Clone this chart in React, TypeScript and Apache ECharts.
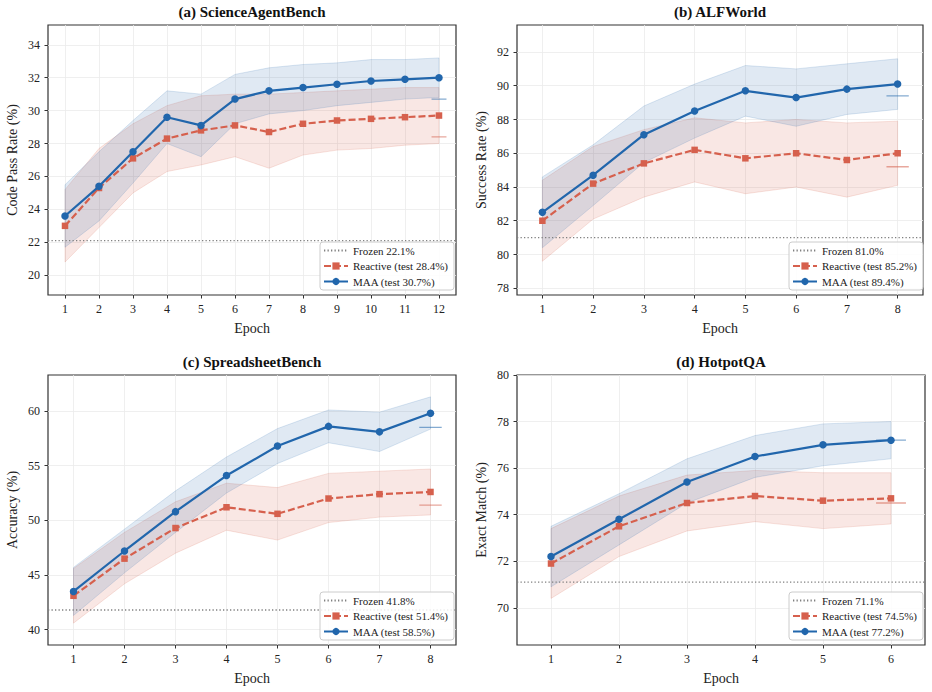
import React, { useEffect, useRef } from "react";
import * as echarts from "echarts";

// ---------- data ----------
const EPOCHS_A = [1, 2, 3, 4, 5, 6, 7, 8, 9, 10, 11, 12];
const A_MAA = [23.6, 25.4, 27.5, 29.6, 29.1, 30.7, 31.2, 31.4, 31.6, 31.8, 31.9, 32.0];
const A_MAA_LO = [21.7, 23.3, 25.6, 28.0, 27.2, 29.2, 29.8, 30.0, 30.3, 30.5, 30.7, 30.8];
const A_MAA_HI = [25.5, 27.5, 29.4, 31.2, 31.0, 32.2, 32.6, 32.8, 32.9, 33.1, 33.1, 33.2];
const A_REA = [23.0, 25.3, 27.1, 28.3, 28.8, 29.1, 28.7, 29.2, 29.4, 29.5, 29.6, 29.7];
const A_REA_LO = [20.8, 22.9, 25.0, 26.3, 26.7, 27.2, 26.5, 27.3, 27.6, 27.7, 27.9, 28.0];
const A_REA_HI = [25.2, 27.7, 29.2, 30.3, 30.9, 31.0, 31.0, 31.1, 31.2, 31.3, 31.4, 31.4];
const A_FROZEN = 22.1;
const A_TEST = { reactive: 28.4, maa: 30.7 };
const A_YTICKS = [20, 22, 24, 26, 28, 30, 32, 34];

const EPOCHS_B = [1, 2, 3, 4, 5, 6, 7, 8];
const B_MAA = [82.5, 84.7, 87.1, 88.5, 89.7, 89.3, 89.8, 90.1];
const B_MAA_LO = [80.4, 82.9, 85.45, 86.9, 88.2, 87.6, 88.3, 88.6];
const B_MAA_HI = [84.6, 86.5, 88.8, 90.1, 91.2, 91.0, 91.3, 91.6];
const B_REA = [82.0, 84.2, 85.4, 86.2, 85.7, 86.0, 85.6, 86.0];
const B_REA_LO = [79.6, 82.1, 83.4, 84.3, 83.6, 84.0, 83.4, 84.1];
const B_REA_HI = [84.4, 86.4, 87.4, 88.1, 87.8, 88.0, 87.8, 87.9];
const B_FROZEN = 81.0;
const B_TEST = { reactive: 85.2, maa: 89.4 };
const B_YTICKS = [78, 80, 82, 84, 86, 88, 90, 92];

const EPOCHS_C = [1, 2, 3, 4, 5, 6, 7, 8];
const C_MAA = [43.5, 47.2, 50.8, 54.1, 56.8, 58.6, 58.1, 59.8];
const C_MAA_LO = [41.3, 45.2, 48.9, 52.5, 55.2, 57.1, 56.3, 58.35];
const C_MAA_HI = [45.7, 49.2, 52.7, 55.8, 58.4, 60.1, 59.9, 61.3];
const C_REA = [43.1, 46.5, 49.3, 51.2, 50.6, 52.0, 52.4, 52.6];
const C_REA_LO = [40.6, 44.2, 47.0, 49.1, 48.2, 49.8, 50.3, 50.5];
const C_REA_HI = [45.6, 48.9, 51.7, 53.4, 53.0, 54.3, 54.5, 54.7];
const C_FROZEN = 41.8;
const C_TEST = { reactive: 51.4, maa: 58.5 };
const C_YTICKS = [40, 45, 50, 55, 60];

const EPOCHS_D = [1, 2, 3, 4, 5, 6];
const D_MAA = [72.2, 73.8, 75.4, 76.5, 77.0, 77.2];
const D_MAA_LO = [70.9, 72.7, 74.5, 75.6, 76.1, 76.4];
const D_MAA_HI = [73.5, 74.9, 76.4, 77.4, 77.9, 78.0];
const D_REA = [71.9, 73.5, 74.5, 74.8, 74.6, 74.7];
const D_REA_LO = [70.4, 72.2, 73.3, 73.7, 73.4, 73.6];
const D_REA_HI = [73.4, 74.8, 75.7, 75.9, 75.8, 75.8];
const D_FROZEN = 71.1;
const D_TEST = { reactive: 74.5, maa: 77.2 };
const D_YTICKS = [70, 72, 74, 76, 78, 80];

// ---------- styles ----------
const BLUE = "#2166ac";
const RED = "#d6604d";
const GRAY = "#808080";
const FONT = "'Liberation Serif', 'DejaVu Serif', serif";

const PANELS = [
  {
    title: "(a) ScienceAgentBench", yName: "Code Pass Rate (%)",
    epochs: EPOCHS_A, maa: A_MAA, maaLo: A_MAA_LO, maaHi: A_MAA_HI,
    rea: A_REA, reaLo: A_REA_LO, reaHi: A_REA_HI, frozen: A_FROZEN, test: A_TEST,
    yTicks: A_YTICKS, yMin: 18.8, yMax: 35.2,
    grid: { left: 48, top: 25, width: 408, height: 270 }, legend: { left: 320, top: 242 },
  },
  {
    title: "(b) ALFWorld", yName: "Success Rate (%)",
    epochs: EPOCHS_B, maa: B_MAA, maaLo: B_MAA_LO, maaHi: B_MAA_HI,
    rea: B_REA, reaLo: B_REA_LO, reaHi: B_REA_HI, frozen: B_FROZEN, test: B_TEST,
    yTicks: B_YTICKS, yMin: 77.6, yMax: 93.6,
    grid: { left: 517, top: 25, width: 406, height: 270 }, legend: { left: 789, top: 242 },
  },
  {
    title: "(c) SpreadsheetBench", yName: "Accuracy (%)",
    epochs: EPOCHS_C, maa: C_MAA, maaLo: C_MAA_LO, maaHi: C_MAA_HI,
    rea: C_REA, reaLo: C_REA_LO, reaHi: C_REA_HI, frozen: C_FROZEN, test: C_TEST,
    yTicks: C_YTICKS, yMin: 38.6, yMax: 63.3,
    grid: { left: 48, top: 375, width: 408, height: 270 }, legend: { left: 320, top: 592 },
  },
  {
    title: "(d) HotpotQA", yName: "Exact Match (%)",
    epochs: EPOCHS_D, maa: D_MAA, maaLo: D_MAA_LO, maaHi: D_MAA_HI,
    rea: D_REA, reaLo: D_REA_LO, reaHi: D_REA_HI, frozen: D_FROZEN, test: D_TEST,
    yTicks: D_YTICKS, yMin: 68.4, yMax: 80.0,
    grid: { left: 517, top: 375, width: 408, height: 270 }, legend: { left: 789, top: 592 },
  },
];

function bandSeries(xs: number[], lo: number[], hi: number[], fill: string, stroke: string, idx: number) {
  return {
    type: "custom",
    xAxisIndex: idx,
    yAxisIndex: idx,
    silent: true,
    z: 1,
    data: xs.map((x, i) => [x, lo[i], hi[i]]),
    encode: { x: 0, y: [1, 2] },
    renderItem: (params: any, api: any) => {
      if (params.dataIndex !== 0) return null;
      const pts: number[][] = [];
      for (let i = 0; i < xs.length; i++) pts.push(api.coord([xs[i], hi[i]]));
      for (let i = xs.length - 1; i >= 0; i--) pts.push(api.coord([xs[i], lo[i]]));
      return {
        type: "polygon",
        shape: { points: pts },
        style: { fill, stroke, lineWidth: 0.8 },
      };
    },
  };
}

function buildOption() {
  const grids: any[] = [];
  const xAxes: any[] = [];
  const yAxes: any[] = [];
  const titles: any[] = [];
  const legends: any[] = [];
  const series: any[] = [];

  PANELS.forEach((p, idx) => {
    const n = p.epochs.length;
    const xMin = p.epochs[0] - 0.5;
    const xMax = p.epochs[n - 1] + 0.5;
    const last = p.epochs[n - 1];
    grids.push({
      ...p.grid,
      show: true,
      borderColor: "#333",
      borderWidth: 1.2,
      backgroundColor: "#fff",
      containLabel: false,
    });
    xAxes.push({
      type: "value",
      gridIndex: idx,
      min: xMin,
      max: xMax,
      name: "Epoch",
      nameLocation: "middle",
      nameGap: 26,
      nameTextStyle: { fontFamily: FONT, fontSize: 14, color: "#222" },
      axisLine: { show: false },
      axisTick: { show: true, inside: false, length: 3.5, customValues: p.epochs, lineStyle: { color: "#333", width: 1 } },
      axisLabel: { customValues: p.epochs, margin: 8, fontFamily: FONT, fontSize: 12, color: "#222" },
      splitLine: { show: true, lineStyle: { color: "#ebebeb", width: 0.8 } },
    });
    yAxes.push({
      type: "value",
      gridIndex: idx,
      min: p.yMin,
      max: p.yMax,
      name: p.yName,
      nameLocation: "middle",
      nameGap: 29,
      nameTextStyle: { fontFamily: FONT, fontSize: 14, color: "#222" },
      axisLine: { show: false },
      axisTick: { show: true, inside: false, length: 3.5, customValues: p.yTicks, lineStyle: { color: "#333", width: 1 } },
      axisLabel: { customValues: p.yTicks, margin: 8, fontFamily: FONT, fontSize: 12, color: "#222" },
      splitLine: { show: true, lineStyle: { color: "#ebebeb", width: 0.8 } },
    });
    titles.push({
      text: p.title,
      left: p.grid.left + p.grid.width / 2,
      top: p.grid.top - 21,
      textAlign: "center",
      textStyle: { fontFamily: FONT, fontSize: 15, fontWeight: "bold", color: "#111" },
      padding: 0,
    });
    const frozenName = `Frozen ${p.frozen.toFixed(1)}%`;
    const reaName = `Reactive (test ${p.test.reactive.toFixed(1)}%)`;
    const maaName = `MAA (test ${p.test.maa.toFixed(1)}%)`;
    legends.push({
      data: [frozenName, reaName, maaName],
      orient: "vertical",
      left: p.legend.left,
      top: p.legend.top,
      padding: [2, 6, 2, 3],
      itemGap: 2.5,
      itemWidth: 24,
      itemHeight: 9,
      backgroundColor: "rgba(255,255,255,0.85)",
      borderColor: "#cccccc",
      borderWidth: 1,
      borderRadius: 3,
      textStyle: { fontFamily: FONT, fontSize: 11, color: "#222", lineHeight: 13 },
      selectedMode: false,
    });

    series.push(bandSeries(p.epochs, p.reaLo, p.reaHi, "rgba(214,96,77,0.15)", "rgba(214,96,77,0.22)", idx));
    series.push(bandSeries(p.epochs, p.maaLo, p.maaHi, "rgba(33,102,172,0.14)", "rgba(33,102,172,0.2)", idx));

    series.push({
      name: frozenName,
      type: "line",
      xAxisIndex: idx,
      yAxisIndex: idx,
      data: [[xMin, p.frozen], [xMax, p.frozen]],
      symbol: "none",
      lineStyle: { color: GRAY, width: 1.3, type: [1.3, 2.2] },
      itemStyle: { color: "rgba(0,0,0,0)" },
      z: 3,
      silent: true,
    });
    series.push({
      name: reaName,
      type: "line",
      xAxisIndex: idx,
      yAxisIndex: idx,
      data: p.epochs.map((x, i) => [x, p.rea[i]]),
      symbol: "rect",
      symbolSize: 6.5,
      lineStyle: { color: RED, width: 2.2, type: [7, 3] },
      itemStyle: { color: RED },
      z: 4,
    });
    series.push({
      name: maaName,
      type: "line",
      xAxisIndex: idx,
      yAxisIndex: idx,
      data: p.epochs.map((x, i) => [x, p.maa[i]]),
      symbol: "circle",
      symbolSize: 7.5,
      lineStyle: { color: BLUE, width: 2.2 },
      itemStyle: { color: BLUE },
      z: 5,
    });
    series.push({
      name: `reactive-test-${idx}`,
      type: "line",
      xAxisIndex: idx,
      yAxisIndex: idx,
      data: [[last - 0.22, p.test.reactive], [last + 0.22, p.test.reactive]],
      symbol: "none",
      lineStyle: { color: "rgba(214,96,77,0.55)", width: 1.3 },
      z: 3,
      silent: true,
    });
    series.push({
      name: `maa-test-${idx}`,
      type: "line",
      xAxisIndex: idx,
      yAxisIndex: idx,
      data: [[last - 0.22, p.test.maa], [last + 0.22, p.test.maa]],
      symbol: "none",
      lineStyle: { color: "rgba(33,102,172,0.55)", width: 1.3 },
      z: 3,
      silent: true,
    });
  });

  return {
    animation: false,
    backgroundColor: "#ffffff",
    textStyle: { fontFamily: FONT },
    title: titles,
    legend: legends,
    grid: grids,
    xAxis: xAxes,
    yAxis: yAxes,
    series,
  };
}

export default function App() {
  const ref = useRef<HTMLDivElement>(null);
  useEffect(() => {
    if (!ref.current) return;
    const chart = echarts.init(ref.current, undefined, { renderer: "svg" });
    chart.setOption(buildOption() as any);
    return () => chart.dispose();
  }, []);
  return (
    <div
      ref={ref}
      style={{ position: "fixed", left: 0, top: 0, width: 932, height: 692, background: "#fff" }}
    />
  );
}
